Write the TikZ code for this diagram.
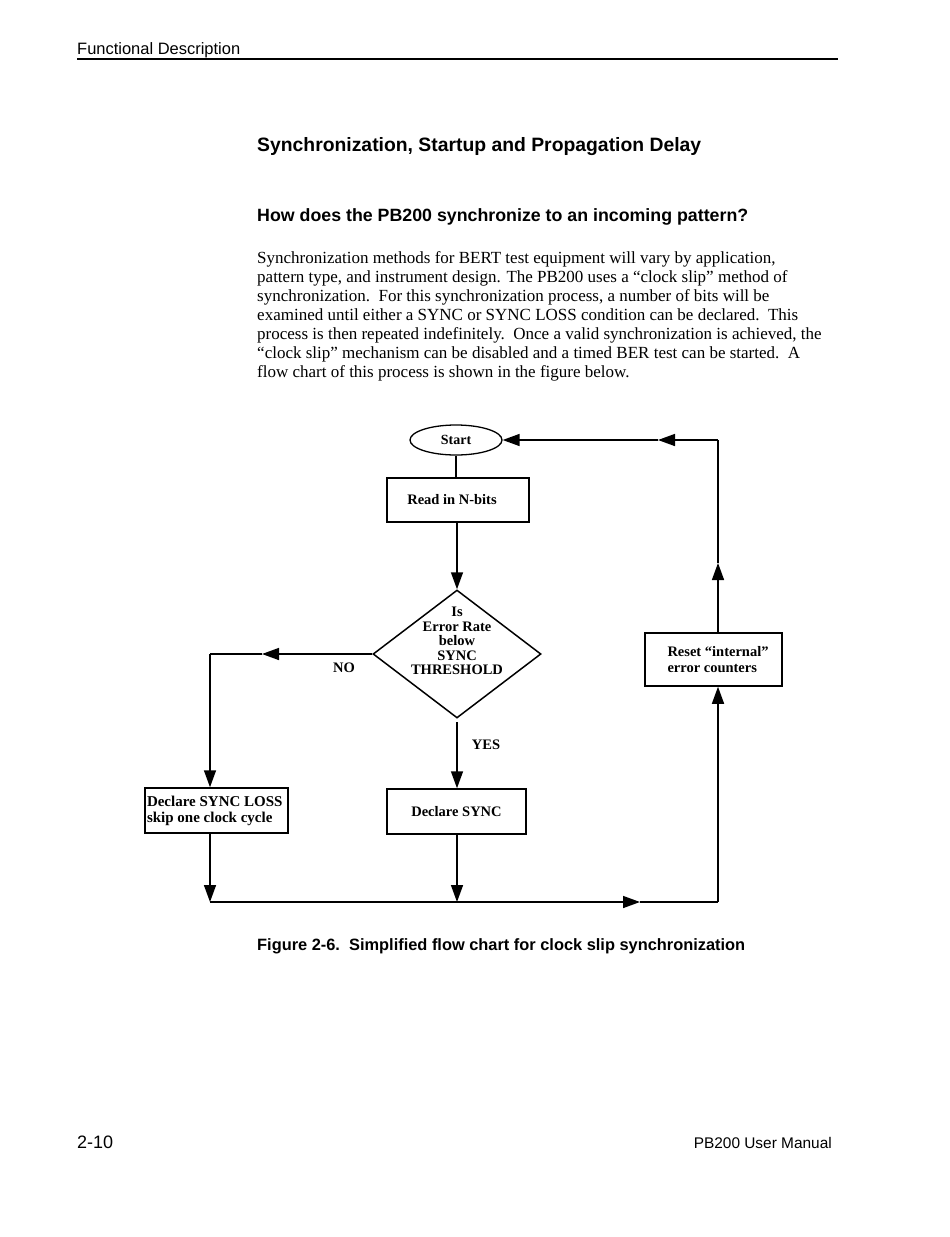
\documentclass[tikz,border=0pt]{standalone}
\usepackage{fontspec}
\usepackage{graphicx}
\setmainfont{Liberation Serif}
\newfontfamily\arialf{Liberation Sans}
\usetikzlibrary{shapes.geometric,arrows.meta}
\newcommand\fitw[2]{\resizebox{#1pt}{!}{#2}}
\begin{document}
\begin{tikzpicture}[x=1pt,y=-1pt,
  ln/.style={line width=1.5pt},
  arr/.style={line width=1.5pt,-{Triangle[length=17pt,width=12pt]}},
  box/.style={draw,line width=1.5pt,rectangle,inner sep=0pt,font=\fontsize{14.5}{16}\selectfont\bfseries},
  lbl/.style={inner sep=0pt,font=\fontsize{14.5}{16}\selectfont\bfseries},
  body/.style={anchor=base west,inner sep=0pt,font=\fontsize{17}{19}\selectfont},
  sans/.style={anchor=base west,inner sep=0pt,font=\arialf}
]
\useasboundingbox[fill=white] (0,0) rectangle (950,1237);
% header
\node[sans] (hdr) at (77,54) {\fitw{163}{Functional Description}};
\coordinate (hl) at (77,59);
\coordinate (hr) at (838,59);
\draw[line width=1.3pt] (hl) -- (hr);
% headings
\node[sans] (title) at (257,151) {\fitw{444}{\bfseries Synchronization, Startup and Propagation Delay}};
\node[sans] (sub) at (257,221) {\fitw{491}{\bfseries How does the PB200 synchronize to an incoming pattern?}};
% paragraph
\node[body] (p1) at (257,263) {Synchronization methods for BERT test equipment will vary by application,};
\node[body] (p2) at (257,282) {pattern type, and instrument design. The PB200 uses a “clock slip” method of};
\node[body] (p3) at (257,301) {synchronization.\ \ For this synchronization process, a number of bits will be};
\node[body] (p4) at (257,320) {examined until either a SYNC or SYNC LOSS condition can be declared.\ \ This};
\node[body] (p5) at (257,339) {process is then repeated indefinitely.\ \ Once a valid synchronization is achieved, the};
\node[body] (p6) at (257,358) {“clock slip” mechanism can be disabled and a timed BER test can be started.\ \ A};
\node[body] (p7) at (257,377) {flow chart of this process is shown in the figure below.};
% flowchart nodes
\node[draw,ellipse,line width=1.3pt,minimum width=92pt,minimum height=30pt,inner sep=0pt,font=\fontsize{14}{15}\selectfont\bfseries] (start) at (456,440) {Start};
\node[box,minimum width=142pt,minimum height=44pt] (read) at (458,500) {\hspace*{-12pt}Read in N-bits};
\node[draw,diamond,line width=1.5pt,minimum width=168pt,minimum height=128pt,inner sep=0pt] (dec) at (457,654) {};
\node[lbl,align=center,font=\fontsize{14.5}{14.5}\selectfont\bfseries] (dectext) at (457,641) {Is\\Error Rate\\below\\SYNC\\THRESHOLD};
\node[box,minimum width=137pt,minimum height=53pt] (reset) at (713.5,659.5) {\parbox{112pt}{\leftskip=10pt Reset “internal”\\error counters}};
\node[box,minimum width=143pt,minimum height=45pt,font=\fontsize{15}{16}\selectfont\bfseries] (loss) at (216.5,810.5) {\parbox{139pt}{Declare SYNC LOSS\\skip one clock cycle}};
\node[box,minimum width=139pt,minimum height=45pt] (sync) at (456.5,811.5) {Declare SYNC};
\node[lbl] (no) at (344,668) {NO};
\node[lbl] (yes) at (486,745) {YES};
% coordinates
\coordinate (nl) at (210,654);
\coordinate (nm) at (262,654);
\coordinate (bl) at (210,902);
\coordinate (bm) at (457,902);
\coordinate (bmid) at (640,902);
\coordinate (br) at (718,902);
\coordinate (tr) at (718,440);
\coordinate (tm) at (658,440);
\coordinate (rm) at (718,563);
\coordinate (ys) at (457,722);
% connectors
\draw[ln] (start.south) -- (read.north -| start.south);
\draw[arr] (read.south -| dec.north) -- (dec.north);
\draw[arr] (dec.west) -- (nm);
\draw[ln] (nm) -- (nl);
\draw[arr] (nl) -- (loss.north -| nl);
\draw[arr] (loss.south -| nl) -- (bl);
\draw[arr] (ys) -- (sync.north -| ys);
\draw[arr] (sync.south -| bm) -- (bm);
\draw[arr] (bl) -- (bmid);
\draw[ln] (bmid) -- (br);
\draw[arr] (br) -- (reset.south -| br);
\draw[arr] (reset.north -| tr) -- (rm);
\draw[ln] (rm) -- (tr);
\draw[arr] (tr) -- (tm);
\draw[arr] (tm) -- (start.east);
% caption
\node[sans] (cap) at (257,950) {\fitw{488}{\bfseries Figure 2-6.\ \ Simplified flow chart for clock slip synchronization}};
% footer
\node[sans] (pg) at (77,1148) {\fitw{36}{2-10}};
\node[sans,anchor=base east] (man) at (832,1148) {\fitw{138}{PB200 User Manual}};
\end{tikzpicture}
\end{document}
